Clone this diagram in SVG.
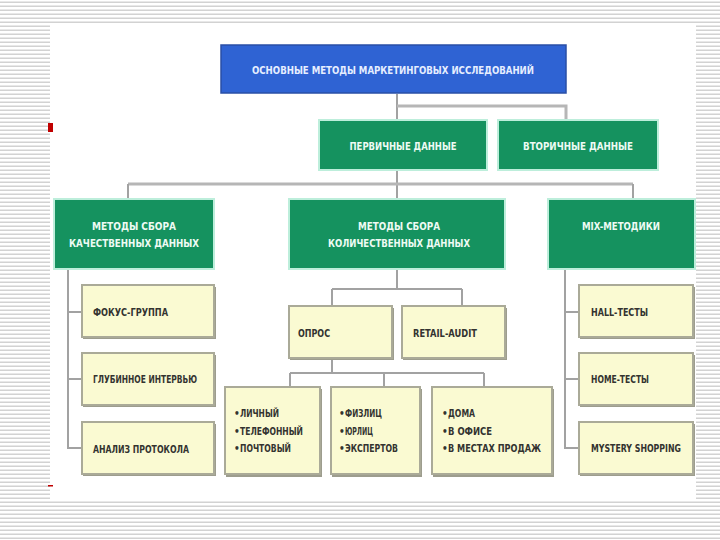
<svg xmlns="http://www.w3.org/2000/svg" width="720" height="540" viewBox="0 0 720 540">
<defs>
<pattern id="stripes" x="0" y="0" width="8" height="4" patternUnits="userSpaceOnUse">
<rect x="0" y="0" width="8" height="4" fill="#ffffff"/>
<rect x="0" y="1.5" width="8" height="1.5" fill="#d2d2d2"/>
</pattern>
<style>
.blue{fill:#2f63d3;stroke:#2a4fa6;stroke-width:1.5}
.green{fill:#15925f;stroke:#bdeedb;stroke-width:2}
.yel{fill:#fafad2;stroke:#aaaa98;stroke-width:2}
.shadow{fill:#9d9d8e}
.conn{fill:none;stroke:#a2a2a2;stroke-width:2}
.connT{fill:none;stroke:#b6b6b6;stroke-width:3}
.tw{font-family:"DejaVu Sans Condensed","DejaVu Sans","Liberation Sans",sans-serif;font-weight:bold;font-size:10px;fill:#eefbf4}
.tb{font-family:"DejaVu Sans Condensed","DejaVu Sans","Liberation Sans",sans-serif;font-weight:bold;font-size:10px;fill:#e6eeff}
.td{font-family:"DejaVu Sans Condensed","DejaVu Sans","Liberation Sans",sans-serif;font-weight:bold;font-size:10px;fill:#333330}
</style>
</defs>
<rect x="0" y="0" width="720" height="540" fill="url(#stripes)"/>
<rect x="50" y="23" width="646" height="477" fill="#ffffff"/>
<rect x="48" y="123" width="5" height="9" fill="#c00000"/>
<rect x="48" y="485" width="5" height="1.5" fill="#c00000"/>

<g id="connectors">
<path class="conn" d="M397 94 V120"/>
<path class="connT" d="M397 106 H566 V120"/>
<path class="conn" d="M397 170 V199"/>
<path class="connT" d="M128 184 H633"/>
<path class="conn" d="M128 184 V199"/>
<path class="conn" d="M633 184 V199"/>
<path class="conn" d="M68 269 V448 H82"/>
<path class="conn" d="M68 312 H82"/>
<path class="conn" d="M68 379 H82"/>
<path class="conn" d="M397 269 V289"/>
<path class="conn" d="M332 289 H462"/>
<path class="conn" d="M332 289 V306"/>
<path class="conn" d="M462 289 V306"/>
<path class="conn" d="M332 358 V373"/>
<path class="conn" d="M290 373 H484"/>
<path class="conn" d="M290 373 V387"/>
<path class="conn" d="M384 373 V387"/>
<path class="conn" d="M484 373 V387"/>
<path class="conn" d="M565 269 V448 H579"/>
<path class="conn" d="M565 312 H579"/>
<path class="conn" d="M565 379 H579"/>
</g>

<g id="n-main">
<rect class="blue" x="221" y="45" width="345" height="48"/>
<text class="tb" x="393" y="74" text-anchor="middle" textLength="282" lengthAdjust="spacingAndGlyphs">ОСНОВНЫЕ МЕТОДЫ МАРКЕТИНГОВЫХ ИССЛЕДОВАНИЙ</text>
</g>
<g id="n-primary">
<rect class="green" x="319" y="120" width="168" height="50"/>
<text class="tw" x="403" y="150" text-anchor="middle" textLength="107" lengthAdjust="spacingAndGlyphs">ПЕРВИЧНЫЕ ДАННЫЕ</text>
</g>
<g id="n-secondary">
<rect class="green" x="498" y="120" width="160" height="50"/>
<text class="tw" x="578" y="150" text-anchor="middle" textLength="110" lengthAdjust="spacingAndGlyphs">ВТОРИЧНЫЕ ДАННЫЕ</text>
</g>
<g id="n-qual">
<rect class="green" x="54" y="199" width="160" height="70"/>
<text class="tw" x="134" y="230" text-anchor="middle" textLength="84" lengthAdjust="spacingAndGlyphs">МЕТОДЫ СБОРА</text>
<text class="tw" x="134" y="247" text-anchor="middle" textLength="130" lengthAdjust="spacingAndGlyphs">КАЧЕСТВЕННЫХ ДАННЫХ</text>
</g>
<g id="n-quant">
<rect class="green" x="289" y="199" width="216" height="70"/>
<text class="tw" x="399" y="230" text-anchor="middle" textLength="82" lengthAdjust="spacingAndGlyphs">МЕТОДЫ СБОРА</text>
<text class="tw" x="399" y="247" text-anchor="middle" textLength="142" lengthAdjust="spacingAndGlyphs">КОЛИЧЕСТВЕННЫХ ДАННЫХ</text>
</g>
<g id="n-mix">
<rect class="green" x="548" y="199" width="147" height="70"/>
<text class="tw" x="621" y="230" text-anchor="middle" textLength="78" lengthAdjust="spacingAndGlyphs">MIX-МЕТОДИКИ</text>
</g>

<g id="n-focus">
<rect class="shadow" x="83" y="287" width="133" height="52"/>
<rect class="yel" x="82" y="285" width="132" height="52"/>
<text class="td" x="93" y="316" textLength="75" lengthAdjust="spacingAndGlyphs">ФОКУС-ГРУППА</text>
</g>
<g id="n-deep">
<rect class="shadow" x="83" y="355" width="133" height="52"/>
<rect class="yel" x="82" y="353" width="132" height="52"/>
<text class="td" x="93" y="383" textLength="104" lengthAdjust="spacingAndGlyphs">ГЛУБИННОЕ ИНТЕРВЬЮ</text>
</g>
<g id="n-protocol">
<rect class="shadow" x="83" y="424" width="133" height="52"/>
<rect class="yel" x="82" y="422" width="132" height="52"/>
<text class="td" x="93" y="453" textLength="96" lengthAdjust="spacingAndGlyphs">АНАЛИЗ ПРОТОКОЛА</text>
</g>

<g id="n-opros">
<rect class="shadow" x="290" y="308" width="104" height="52"/>
<rect class="yel" x="289" y="306" width="103" height="52"/>
<text class="td" x="298" y="337" textLength="32" lengthAdjust="spacingAndGlyphs">ОПРОС</text>
</g>
<g id="n-retail">
<rect class="shadow" x="403" y="308" width="104" height="52"/>
<rect class="yel" x="402" y="306" width="103" height="52"/>
<text class="td" x="413" y="337" textLength="64" lengthAdjust="spacingAndGlyphs">RETAIL-AUDIT</text>
</g>

<g id="n-type">
<rect class="shadow" x="226" y="389" width="96" height="88"/>
<rect class="yel" x="225" y="387" width="95" height="87"/>
<text class="td" x="234" y="417">•</text><text class="td" x="240" y="417" textLength="39" lengthAdjust="spacingAndGlyphs">ЛИЧНЫЙ</text>
<text class="td" x="234" y="435">•</text><text class="td" x="240" y="435" textLength="63" lengthAdjust="spacingAndGlyphs">ТЕЛЕФОННЫЙ</text>
<text class="td" x="234" y="452">•</text><text class="td" x="240" y="452" textLength="51" lengthAdjust="spacingAndGlyphs">ПОЧТОВЫЙ</text>
</g>
<g id="n-whom">
<rect class="shadow" x="332" y="389" width="90" height="88"/>
<rect class="yel" x="331" y="387" width="89" height="87"/>
<text class="td" x="339" y="417">•</text><text class="td" x="345" y="417" textLength="37" lengthAdjust="spacingAndGlyphs">ФИЗЛИЦ</text>
<text class="td" x="339" y="435">•</text><text class="td" x="345" y="435" textLength="28" lengthAdjust="spacingAndGlyphs">ЮРЛИЦ</text>
<text class="td" x="339" y="452">•</text><text class="td" x="345" y="452" textLength="53" lengthAdjust="spacingAndGlyphs">ЭКСПЕРТОВ</text>
</g>
<g id="n-where">
<rect class="shadow" x="433" y="389" width="121" height="88"/>
<rect class="yel" x="432" y="387" width="120" height="87"/>
<text class="td" x="442" y="417">•</text><text class="td" x="448" y="417" textLength="27" lengthAdjust="spacingAndGlyphs">ДОМА</text>
<text class="td" x="442" y="435">•</text><text class="td" x="448" y="435" textLength="44" lengthAdjust="spacingAndGlyphs">В ОФИСЕ</text>
<text class="td" x="442" y="452">•</text><text class="td" x="448" y="452" textLength="93" lengthAdjust="spacingAndGlyphs">В МЕСТАХ ПРОДАЖ</text>
</g>

<g id="n-hall">
<rect class="shadow" x="580" y="287" width="115" height="52"/>
<rect class="yel" x="579" y="285" width="114" height="52"/>
<text class="td" x="591" y="316" textLength="57" lengthAdjust="spacingAndGlyphs">HALL-ТЕСТЫ</text>
</g>
<g id="n-home">
<rect class="shadow" x="580" y="355" width="115" height="52"/>
<rect class="yel" x="579" y="353" width="114" height="52"/>
<text class="td" x="591" y="383" textLength="58" lengthAdjust="spacingAndGlyphs">HOME-ТЕСТЫ</text>
</g>
<g id="n-mystery">
<rect class="shadow" x="580" y="424" width="115" height="52"/>
<rect class="yel" x="579" y="422" width="114" height="52"/>
<text class="td" x="591" y="452" textLength="90" lengthAdjust="spacingAndGlyphs">MYSTERY SHOPPING</text>
</g>
</svg>
